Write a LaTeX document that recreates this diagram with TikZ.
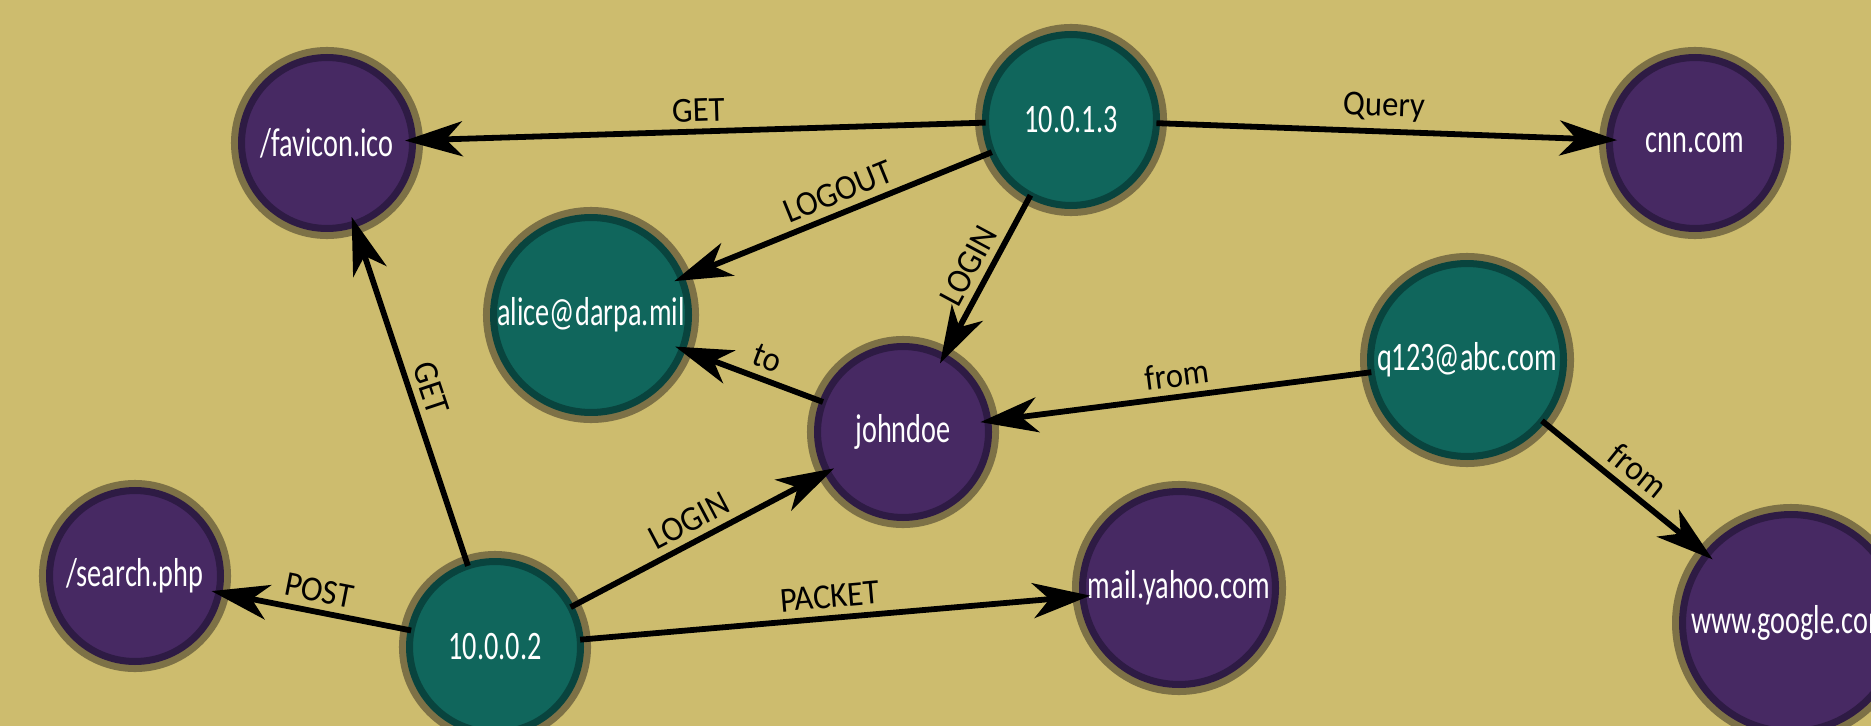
\documentclass[tikz,border=0pt]{standalone}
\usepackage{fontspec}
\setmainfont[FakeStretch=0.93]{Carlito}
\newfontfamily\nodefont[FakeStretch=0.7]{Carlito}
\usetikzlibrary{arrows.meta}
\definecolor{sfondo}{RGB}{205,188,110}
\definecolor{alone}{RGB}{125,113,70}
\definecolor{verde}{RGB}{16,102,92}
\definecolor{verdescuro}{RGB}{9,68,62}
\definecolor{viola}{RGB}{71,41,99}
\definecolor{violascuro}{RGB}{46,27,68}
\tikzset{
  nodo/.style={circle, minimum size=3.42cm, inner sep=0pt, outer sep=0pt,
    line width=4pt, preaction={draw=alone, line width=12pt},
    text=white, font=\nodefont\fontsize{23}{25}\selectfont},
  ip/.style={nodo, fill=verde, draw=verdescuro},
  url/.style={nodo, fill=viola, draw=violascuro},
  freccia/.style={line width=3.3pt, shorten >=-0.15cm,
    -{Stealth[length=1.15cm, width=0.7cm, inset=0.33cm]}},
  etich/.style={font=\fontsize{20}{22}\selectfont, sloped, above, inner sep=4pt}
}
\begin{document}
\begin{tikzpicture}[x=0.02cm, y=-0.02cm]
    \useasboundingbox (0,0) rectangle (1871,726);
    \fill[sfondo] (0,0) rectangle (1871,726);
    % indirizzi e utenti
    \node[ip] (ipA) at (1071,120) {10.0.1.3};
    \node[ip] (ipB) at (495,647) {10.0.0.2};
    \node[ip, minimum size=3.9cm] (alice) at (591,315) {alice@darpa.mil};
    \node[ip, minimum size=3.86cm] (qabc) at (1467,360) {q123@abc.com};
    % risorse
    \node[url] (favicon) at (327,143) {/favicon.ico};
    \node[url] (cnn) at (1695,143) {cnn.com};
    \node[url] (john) at (903,432) {johndoe};
    \node[url] (search) at (135,576) {/search.php};
    \node[url, minimum size=3.86cm] (yahoo) at (1179,588) {mail.yahoo.com};
    \node[url, minimum size=4.34cm] (google) at (1791,623) {www.google.com};
    % archi
    \draw[freccia] (ipA) -- node[etich] {GET} (favicon);
    \draw[freccia] (ipA) -- node[etich] {Query} (cnn);
    \draw[freccia] (ipA) -- node[etich, pos=0.47] {LOGOUT} (alice);
    \draw[freccia] (ipA) -- node[etich] {LOGIN} (john);
    \draw[freccia] (john) -- node[etich, pos=0.45] {to} (alice);
    \draw[freccia] (qabc) -- node[etich] {from} (john);
    \draw[freccia] (qabc) -- node[etich] {from} (google);
    \draw[freccia] (ipB) -- node[etich] {GET} (favicon);
    \draw[freccia] (ipB) -- node[etich] {POST} (search);
    \draw[freccia] (ipB) -- node[etich] {LOGIN} (john);
    \draw[freccia] (ipB) -- node[etich] {PACKET} (yahoo);
\end{tikzpicture}
\end{document}
